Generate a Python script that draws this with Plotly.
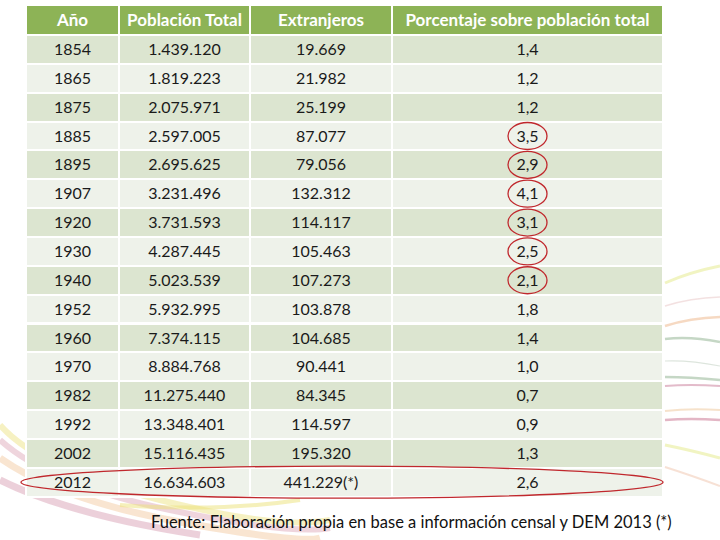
import plotly.graph_objects as go

anios = ["1854", "1865", "1875", "1885", "1895", "1907", "1920", "1930", "1940",
         "1952", "1960", "1970", "1982", "1992", "2002", "2012"]
poblacion_total = ["1.439.120", "1.819.223", "2.075.971", "2.597.005", "2.695.625",
                   "3.231.496", "3.731.593", "4.287.445", "5.023.539", "5.932.995",
                   "7.374.115", "8.884.768", "11.275.440", "13.348.401", "15.116.435",
                   "16.634.603"]
extranjeros = ["19.669", "21.982", "25.199", "87.077", "79.056", "132.312", "114.117",
               "105.463", "107.273", "103.878", "104.685", "90.441", "84.345", "114.597",
               "195.320", "441.229(*)"]
porcentaje = ["1,4", "1,2", "1,2", "3,5", "2,9", "4,1", "3,1", "2,5", "2,1", "1,8",
              "1,4", "1,0", "0,7", "0,9", "1,3", "2,6"]
encabezados = ["Año", "Población Total", "Extranjeros", "Porcentaje sobre población total"]
resaltados = ["1885", "1895", "1907", "1920", "1930", "1940"]
fila_destacada = "2012"
fuente = "Fuente: Elaboración propia en base a información censal y DEM 2013 (*)"

W, H = 720, 540
TOP = 5          # visible top of header (px)
HEAD_H = 30
ROW_H = 28.85
X0, X1 = 26, 663  # visible table edges (px)
col_w = [93, 131, 142, 271]

dark = "#DCE5D0"
light = "#EEF2EA"
fills = [dark if i % 2 == 0 else light for i in range(len(anios))]
FONT = "Lato, Open Sans, sans-serif"

# faint decorative swirls of the slide background (pixel coordinates)
swirls = [
    ("M 665 283 Q 690 272 720 266", "rgba(225,230,120,0.45)", 3),
    ("M 665 306 Q 690 298 720 297", "rgba(220,170,170,0.35)", 1.5),
    ("M 665 326 Q 690 318 720 317", "rgba(235,170,120,0.45)", 2.5),
    ("M 665 339 Q 690 336 720 342", "rgba(140,175,140,0.5)", 2.5),
    ("M 665 361 Q 690 360 720 366", "rgba(170,190,170,0.4)", 1.2),
    ("M 665 377 Q 690 377 720 380", "rgba(140,175,140,0.5)", 2.5),
    ("M 665 386 Q 690 384 720 386", "rgba(200,120,150,0.5)", 2),
    ("M 665 411 Q 690 408 720 410", "rgba(235,190,140,0.45)", 2),
    ("M 665 420 Q 690 418 720 420", "rgba(200,110,140,0.5)", 2.5),
    ("M 665 445 Q 690 450 720 458", "rgba(225,230,120,0.45)", 3),
    ("M 665 467 Q 690 475 720 486", "rgba(235,180,150,0.4)", 2),
    ("M 0 425 Q 40 470 160 500 T 330 520", "rgba(235,225,120,0.45)", 6),
    ("M 0 440 Q 50 485 170 510 T 330 528", "rgba(215,150,170,0.40)", 6),
    ("M 0 458 Q 60 500 180 522 T 320 538", "rgba(240,190,140,0.40)", 7),
    ("M 0 480 Q 70 515 200 535", "rgba(200,120,150,0.35)", 7),
    ("M 120 505 Q 220 512 300 500", "rgba(235,225,120,0.5)", 4),
]

header_vals = [h.replace(" ", "\u00a0") for h in encabezados]

fig = go.Figure(go.Table(
    domain=dict(x=[X0 / W, X1 / W], y=[0, 1 - TOP / H]),
    columnwidth=col_w,
    header=dict(values=header_vals, fill_color="#8DB356", line=dict(color="white", width=2),
                align="center", height=HEAD_H,
                font=dict(family=FONT, size=17, color="white", weight="bold")),
    cells=dict(values=[anios, poblacion_total, extranjeros, porcentaje],
               fill_color=[fills] * 4, line=dict(color="white", width=2),
               align="center", height=ROW_H,
               font=dict(family=FONT, size=16, color="#1a1a1a")),
))

shapes = []
for p, c, w in swirls:
    shapes.append(dict(type="path", path=p, xref="x", yref="y", layer="below",
                       line=dict(color=c, width=w)))

pct_cx = X0 + sum(col_w[:3]) + col_w[3] / 2
for a in resaltados:
    i = anios.index(a)
    yc = TOP + HEAD_H + (i + 0.5) * ROW_H
    shapes.append(dict(type="circle", xref="x", yref="y",
                       x0=pct_cx - 19.5, x1=pct_cx + 19.5,
                       y0=yc - 13.5, y1=yc + 13.5,
                       line=dict(color="#C0282D", width=1.3)))
i = anios.index(fila_destacada)
yc = TOP + HEAD_H + (i + 0.5) * ROW_H
shapes.append(dict(type="circle", xref="x", yref="y",
                   x0=21, x1=663, y0=yc - 16, y1=yc + 16,
                   line=dict(color="#C0282D", width=1.3)))

fig.update_layout(
    width=W, height=H, margin=dict(l=0, r=0, t=0, b=0),
    paper_bgcolor="white", plot_bgcolor="rgba(0,0,0,0)",
    xaxis=dict(range=[0, W], visible=False, fixedrange=True),
    yaxis=dict(range=[H, 0], visible=False, fixedrange=True),
    shapes=shapes,
    annotations=[dict(text=fuente, xref="x", yref="y", x=411, y=522,
                      xanchor="center", yanchor="middle", showarrow=False,
                      font=dict(family=FONT, size=16.5, color="#111"))],
)
fig.write_html("out.html", config={"displayModeBar": False},
               post_script="document.body.style.margin='0';")
